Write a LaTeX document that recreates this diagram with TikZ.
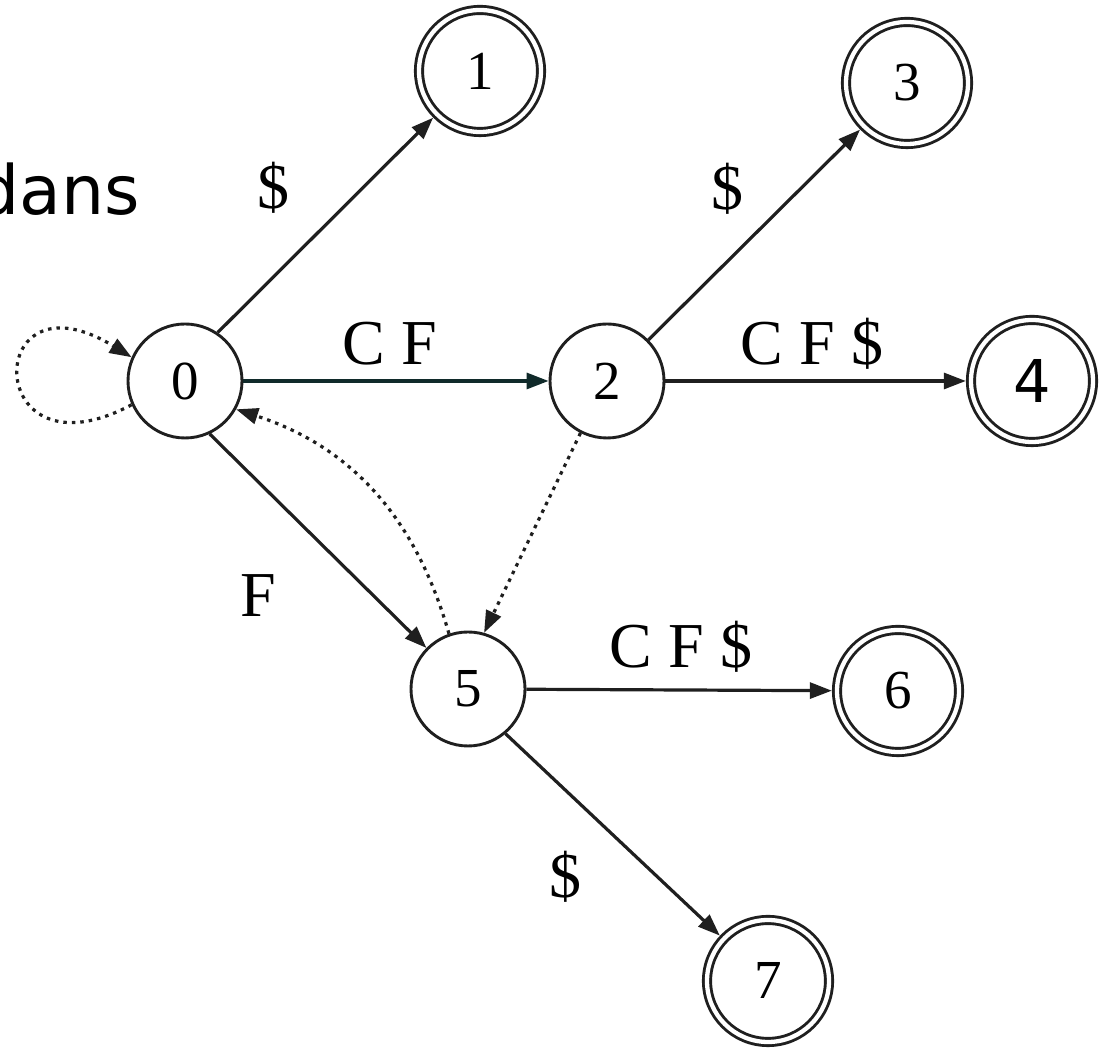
\documentclass[tikz,border=0pt]{standalone}
\usepackage{fontspec}
\setmainfont{Liberation Serif}
\newfontfamily\dansfont{DejaVu Sans}
\usetikzlibrary{arrows.meta}
\definecolor{cfline}{RGB}{16,42,42}
\begin{document}
\begin{tikzpicture}[x=1pt,y=1pt,
  state/.style={circle,draw=black!88,line width=2.9pt,minimum size=114pt,inner sep=0pt,outer sep=1.45pt,font=\fontsize{55}{60}\selectfont},
  accept/.style={state,minimum size=122pt,double,double distance=4.3pt,line width=2.9pt,outer sep=5.2pt},
  edge/.style={line width=3.2pt,draw=black!88,-{Triangle[length=22pt,width=16pt]}},
  dots/.style={edge,dash pattern=on 3.5pt off 5pt},
  lab/.style={font=\fontsize{64}{70}\selectfont,inner sep=0pt}]
\useasboundingbox (0,0) rectangle (1101,1048);
% states
\node[state]  (n0) at (185,667)  {0};
\node[accept] (n1) at (480,977)  {1};
\node[state]  (n2) at (607,667)  {2};
\node[accept] (n3) at (907,965)  {3};
\node[accept,font=\dansfont\fontsize{59}{64}\selectfont] (n4) at (1032,667) {4};
\node[state]  (n5) at (468,359)  {5};
\node[accept] (n6) at (898,357)  {6};
\node[accept] (n7) at (768,67)   {7};
\node[anchor=base east,inner sep=0pt,font=\dansfont\fontsize{68}{74}\selectfont] (dans) at (140,833) {dans};
% transitions
\draw[edge] (n0.56) -- (n1);
\draw[edge,draw=cfline] (n0) -- (n2);
\draw[edge] (n2) -- (n3);
\draw[edge] (n2) -- (n4);
\draw[edge] (n0.-65) -- (n5);
\draw[edge] (n5) -- (n6);
\draw[edge] (n5.-50) -- (n7);
\draw[dots] (n0.204) .. controls +(-150,-80) and +(-150,92) .. (n0.156);
\draw[dots] (n5.109) to[out=106,in=-18] (n0.-29);
\draw[dots] (n2.243) -- (n5.74);
% labels
\node[lab] (l01) at (273,860) {\$};
\node[lab,anchor=base] (l02) at (390,683) {C F};
\node[lab] (l23) at (727,859) {\$};
\node[lab,anchor=base] (l24) at (812,683) {C F \$};
\node[lab,anchor=base] (l05) at (258,431) {F};
\node[lab,anchor=base] (l56) at (681,380) {C F \$};
\node[lab] (l57) at (565,171) {\$};
\end{tikzpicture}
\end{document}
